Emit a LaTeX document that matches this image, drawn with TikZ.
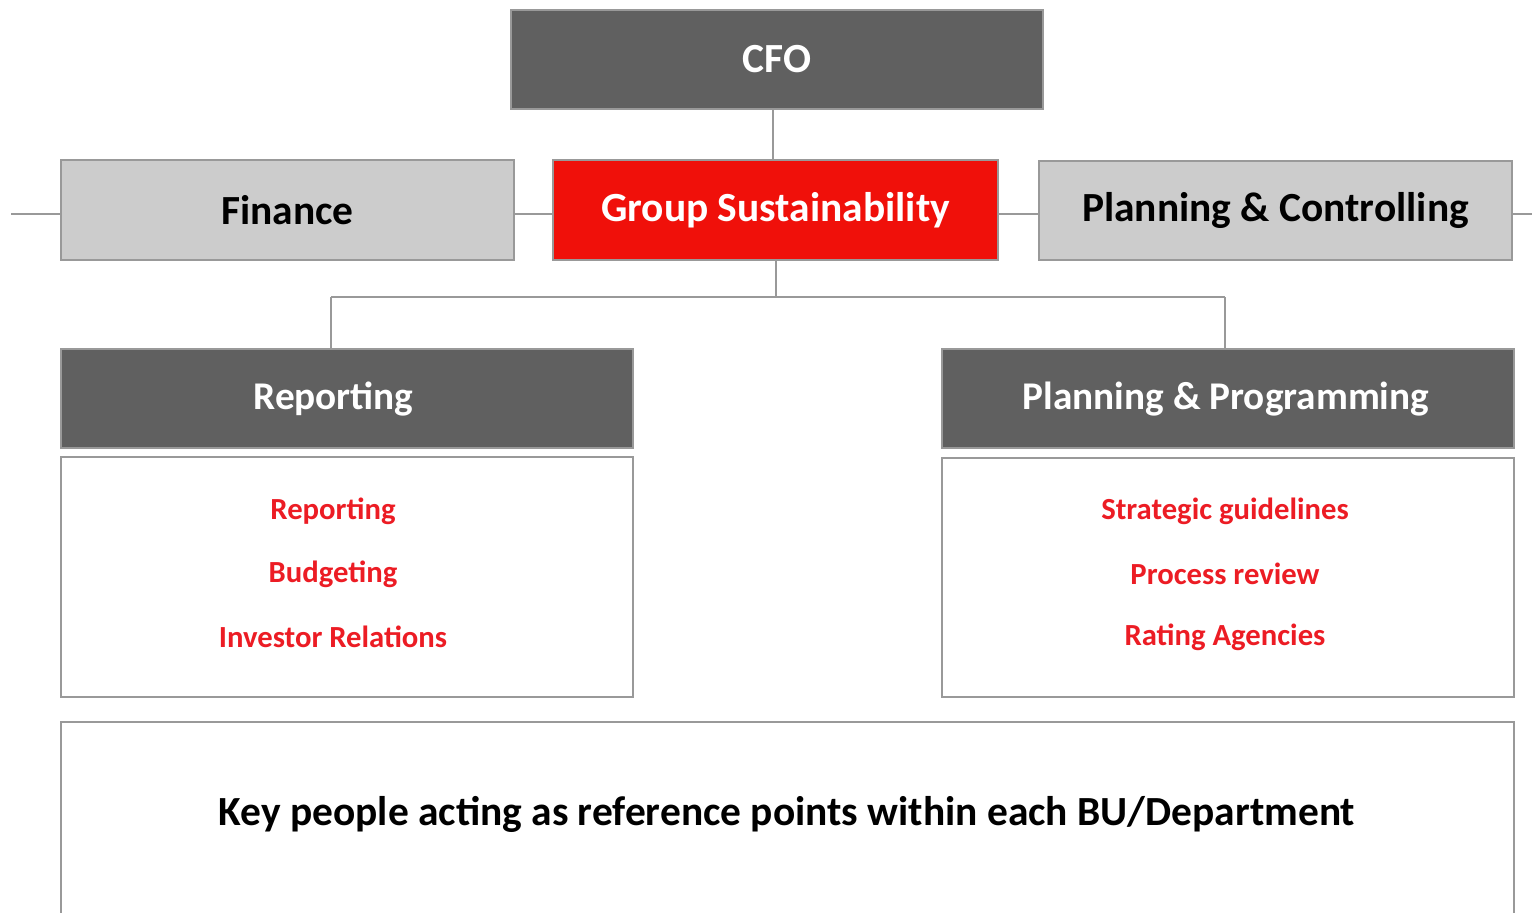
\documentclass[tikz,border=0pt]{standalone}
\usepackage{fontspec}
\setmainfont{Carlito}
\definecolor{darkbox}{HTML}{606060}
\definecolor{lightbox}{HTML}{CCCCCC}
\definecolor{redbox}{HTML}{F0100A}
\definecolor{redtext}{HTML}{EC1C24}
\definecolor{linegray}{HTML}{999999}
\begin{document}
\begin{tikzpicture}[x=0.5bp,y=-0.5bp,
  box/.style={draw=linegray,line width=1bp,rectangle,inner sep=0pt,outer sep=0pt},
  headtxt/.style={font=\fontsize{20.8}{25}\selectfont\bfseries},
  subtxt/.style={font=\fontsize{19.7}{24}\selectfont\bfseries},
  listtxt/.style={font=\fontsize{15.4}{18}\selectfont\bfseries,text=redtext,inner sep=0pt},
  conn/.style={draw=linegray,line width=1bp}]
\useasboundingbox (0,0) rectangle (1532,912);
% top level
\node[box,fill=darkbox,text=white,headtxt,minimum width=266bp,minimum height=49.5bp] (cfo) at (777,59.5) {CFO};
\node[box,fill=lightbox,text=black,headtxt,minimum width=226.5bp,minimum height=50bp] (fin) at (287.5,210) {Finance};
\node[box,fill=redbox,text=white,headtxt,minimum width=222.5bp,minimum height=50bp] (gs) at (775.5,210) {Group Sustainability};
\node[box,fill=lightbox,text=black,headtxt,minimum width=236.5bp,minimum height=49.5bp] (pc) at (1275.5,210.5) {Planning \& Controlling};
% second level headers
\node[box,fill=darkbox,minimum width=286bp,minimum height=49.5bp] (rep) at (347,398.5) {};
\node[text=white,subtxt,inner sep=0pt] (reptxt) at (333.5,399.5) {Reporting};
\node[box,fill=darkbox,minimum width=286bp,minimum height=49.5bp] (pp) at (1228,398.5) {};
\node[text=white,subtxt,inner sep=0pt] (pptxt) at (1226,399.5) {Planning \& Programming};
% list boxes
\node[box,minimum width=286bp,minimum height=120bp] (replist) at (347,577) {};
\node[listtxt] (l1) at (333,511) {Reporting};
\node[listtxt] (l2) at (333,574) {Budgeting};
\node[listtxt] (l3) at (333,637) {Investor Relations};
\node[box,minimum width=286bp,minimum height=119.5bp] (pplist) at (1228,577.5) {};
\node[listtxt] (r1) at (1225,511) {Strategic guidelines};
\node[listtxt] (r2) at (1225,574) {Process review};
\node[listtxt] (r3) at (1225,637) {Rating Agencies};
% bottom box
\draw[conn] (61,940) -- (61,722) -- (1514,722) -- (1514,940);
\node[font=\fontsize{20.8}{25}\selectfont\bfseries,inner sep=0pt] (key) at (787,814) {Key people acting as reference points within each BU/Department};
% connectors
\coordinate (lend) at (11,214);
\coordinate (rend) at (1532,214);
\coordinate (busL) at (331,297);
\coordinate (busR) at (1225,297);
\coordinate (gsb) at (776,260);
\coordinate (cfob) at (773,109);
\draw[conn] (cfob) -- (cfob |- gs.north);
\draw[conn] (lend) -- (lend -| fin.west);
\draw[conn] (fin.east |- lend) -- (gs.west |- lend);
\draw[conn] (gs.east |- lend) -- (pc.west |- lend);
\draw[conn] (pc.east |- rend) -- (rend);
\draw[conn] (gsb) -- (gsb |- busL);
\draw[conn] (busL) -- (busR);
\draw[conn] (busL) -- (busL |- rep.north);
\draw[conn] (busR) -- (busR |- pp.north);
\end{tikzpicture}
\end{document}
